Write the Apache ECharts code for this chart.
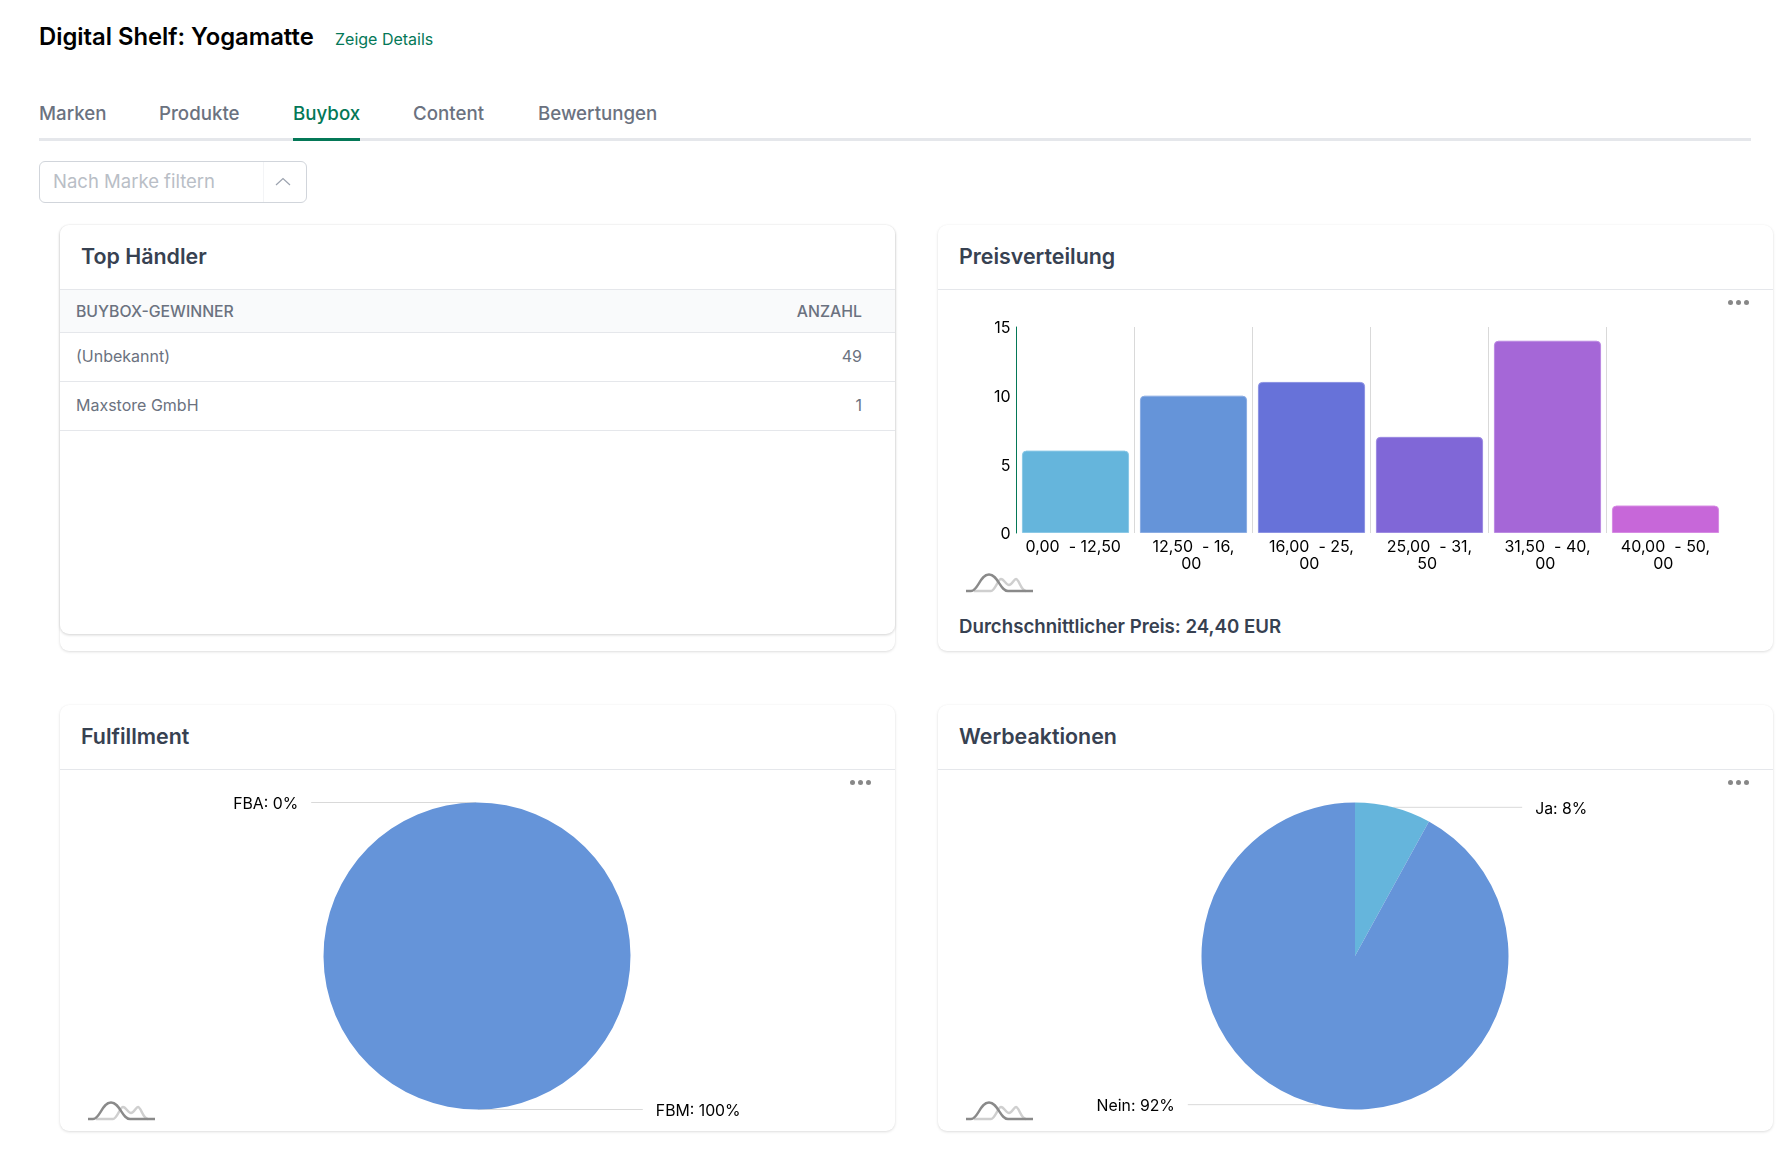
<!DOCTYPE html>
<html lang="de">
<head>
<meta charset="utf-8">
<title>Digital Shelf: Yogamatte</title>
<script src="https://cdn.jsdelivr.net/npm/echarts@6/dist/echarts.min.js"></script>
<style>
html,body{margin:0;padding:0;background:#fff;width:1790px;height:1152px;overflow:hidden;font-family:Inter,"Noto Sans",sans-serif;}
.a{position:absolute;white-space:nowrap;line-height:1;}
.mid{transform:translateY(-50%);}
.tab{font-size:18.7px;font-weight:500;color:#6b7280;top:113.5px;}
.card{position:absolute;background:#fff;border-radius:9px;box-shadow:0 1px 3px rgba(0,0,0,.13),0 0 2px rgba(0,0,0,.03);}
.ct{font-size:21.4px;font-weight:600;color:#374151;top:256.5px;}
.hl{position:absolute;height:1px;background:#e5e7eb;}
.th{font-size:15.8px;font-weight:500;color:#6b7280;}
.td{font-size:16px;font-weight:400;color:#6b7280;}
.dots{position:absolute;width:21px;height:5px;}
.dots i{position:absolute;top:0;width:5px;height:5px;border-radius:50%;background:#888;}
.dots i:nth-child(1){left:0}.dots i:nth-child(2){left:8px}.dots i:nth-child(3){left:16px}
svg.logo{position:absolute;width:67px;height:20px;}
#chart{position:absolute;left:0;top:0;width:1790px;height:1152px;}
</style>
</head>
<body>
<div class="a mid" style="left:39px;top:36.5px;font-size:23.8px;font-weight:600;color:#000;">Digital Shelf: Yogamatte</div>
<div class="a mid" style="left:335px;top:39px;font-size:16px;color:#047857;">Zeige Details</div>

<div class="a mid tab" style="left:39px;">Marken</div>
<div class="a mid tab" style="left:159px;">Produkte</div>
<div class="a mid tab" style="left:293px;color:#047857;">Buybox</div>
<div class="a mid tab" style="left:413px;">Content</div>
<div class="a mid tab" style="left:538px;">Bewertungen</div>
<div style="position:absolute;left:39px;top:138px;width:1712px;height:3px;background:#e5e7eb;"></div>
<div style="position:absolute;left:293px;top:138px;width:67px;height:3px;background:#047857;"></div>

<div style="position:absolute;left:39px;top:161px;width:266px;height:40px;border:1px solid #d1d5db;border-radius:6px;"></div>
<div style="position:absolute;left:263px;top:162px;width:1px;height:40px;background:#f3f4f6;"></div>
<div class="a mid" style="left:53px;top:181px;font-size:18.5px;color:#b9bec6;">Nach Marke filtern</div>
<svg style="position:absolute;left:275px;top:177px;" width="16" height="10"><path d="M1 8 L8 1.5 L15 8" fill="none" stroke="#9ca3af" stroke-width="1.2"/></svg>

<!-- Karten -->
<div class="card" style="left:60px;top:225px;width:835px;height:426px;"></div>
<div class="card" style="left:60px;top:225px;width:835px;height:409px;box-shadow:0 1px 3px rgba(0,0,0,.18);"></div>
<div class="card" style="left:938px;top:225px;width:835px;height:426px;"></div>
<div class="card" style="left:60px;top:705px;width:835px;height:426px;"></div>
<div class="card" style="left:938px;top:705px;width:835px;height:426px;"></div>

<div class="a mid ct" style="left:81px;">Top Händler</div>
<div class="a mid ct" style="left:959px;">Preisverteilung</div>
<div class="a mid ct" style="left:81px;top:736.5px;">Fulfillment</div>
<div class="a mid ct" style="left:959px;top:736.5px;">Werbeaktionen</div>

<div class="hl" style="left:60px;top:289px;width:835px;"></div>
<div class="hl" style="left:938px;top:289px;width:835px;"></div>
<div class="hl" style="left:60px;top:769px;width:835px;"></div>
<div class="hl" style="left:938px;top:769px;width:835px;"></div>

<div style="position:absolute;left:60px;top:290px;width:835px;height:42px;background:#f9fafb;"></div>
<div class="hl" style="left:60px;top:332px;width:835px;"></div>
<div class="hl" style="left:60px;top:381px;width:835px;"></div>
<div class="hl" style="left:60px;top:430px;width:835px;"></div>
<div class="a mid th" style="left:76px;top:311.5px;">BUYBOX-GEWINNER</div>
<div class="a mid th" style="right:928px;top:311.5px;">ANZAHL</div>
<div class="a mid td" style="left:76px;top:356px;">(Unbekannt)</div>
<div class="a mid td" style="right:928px;top:356px;">49</div>
<div class="a mid td" style="left:76px;top:405px;">Maxstore GmbH</div>
<div class="a mid td" style="right:928px;top:405px;">1</div>

<div class="dots" style="left:1728px;top:300px;"><i></i><i></i><i></i></div>
<div class="dots" style="left:850px;top:780px;"><i></i><i></i><i></i></div>
<div class="dots" style="left:1728px;top:780px;"><i></i><i></i><i></i></div>

<svg class="logo" style="left:966px;top:573px;" viewBox="0 0 67 20"><path d="M8 18 H25 C29 18 32 6 35 6 C38 6 40 12 43 12 C46 12 48 6 50 6 C53 6 55 18 60 18" fill="none" stroke="#cfcfcf" stroke-width="2.4"/><path d="M0 18 H5 C12 18 14 1.5 23 1.5 C32 1.5 34 18 42 18 H67" fill="none" stroke="#8a8a8a" stroke-width="2.4"/></svg>
<svg class="logo" style="left:88px;top:1101px;" viewBox="0 0 67 20"><path d="M8 18 H25 C29 18 32 6 35 6 C38 6 40 12 43 12 C46 12 48 6 50 6 C53 6 55 18 60 18" fill="none" stroke="#cfcfcf" stroke-width="2.4"/><path d="M0 18 H5 C12 18 14 1.5 23 1.5 C32 1.5 34 18 42 18 H67" fill="none" stroke="#8a8a8a" stroke-width="2.4"/></svg>
<svg class="logo" style="left:966px;top:1101px;" viewBox="0 0 67 20"><path d="M8 18 H25 C29 18 32 6 35 6 C38 6 40 12 43 12 C46 12 48 6 50 6 C53 6 55 18 60 18" fill="none" stroke="#cfcfcf" stroke-width="2.4"/><path d="M0 18 H5 C12 18 14 1.5 23 1.5 C32 1.5 34 18 42 18 H67" fill="none" stroke="#8a8a8a" stroke-width="2.4"/></svg>

<div class="a mid" style="left:959px;top:626px;font-size:18.65px;font-weight:600;color:#374151;">Durchschnittlicher Preis: 24,40 EUR</div>

<div id="chart"></div>
<script>
const priceCategories = ['0,00  - 12,50 ', '12,50  - 16,\n00 ', '16,00  - 25,\n00 ', '25,00  - 31,\n50 ', '31,50  - 40,\n00 ', '40,00  - 50,\n00 '];
const priceValues = [6, 10, 11, 7, 14, 2];
const priceColors = ['#65b5dc', '#6594d9', '#6772d9', '#8067d7', '#a567d7', '#c767d9'];
const priceEdgeColors = ['#8ac8e6', '#8aace3', '#8c92e3', '#9c8ae2', '#bb8ae2', '#d68ae3'];
const fulfillmentNames = ['FBA', 'FBM'];
const fulfillmentValues = [0, 100];
const promoNames = ['Ja', 'Nein'];
const promoValues = [8, 92];
const pieColors = ['#65b5dc', '#6594d9'];

const FONT = 'Inter, "Noto Sans", sans-serif';
function pieSeries(names, values, center, startAngle, len2) {
  return {
    type: 'pie', center: center, radius: [0, 153.5], startAngle: startAngle, clockwise: true,
    avoidLabelOverlap: false, silent: true, animation: false,
    stillShowZeroSum: true, percentPrecision: 0, minShowLabelAngle: 0,
    color: pieColors,
    itemStyle: { borderWidth: 0 },
    label: { show: true, position: 'outside', formatter: '{b}: {d}%', color: '#000', fontSize: 15.8, fontFamily: FONT, distanceToLabelLine: 13 },
    labelLayout: { dy: 1.5 },
    labelLine: { show: true, length: 0, length2: len2, smooth: false, lineStyle: { color: '#d9d9d9', width: 1 } },
    data: names.map((n, i) => ({ name: n, value: values[i] }))
  };
}
const chart = echarts.init(document.getElementById('chart'), null, { renderer: 'canvas', width: 1790, height: 1152 });
chart.setOption({
  animation: false,
  backgroundColor: 'transparent',
  grid: { left: 1016.5, top: 327, width: 708, height: 206, containLabel: false },
  xAxis: {
    type: 'category', data: priceCategories,
    axisTick: { show: false },
    axisLine: { show: false },
    axisLabel: { color: '#000', fontSize: 16, fontFamily: FONT, margin: 6, lineHeight: 17, interval: 0 },
    splitLine: { show: true, interval: 0, showMaxLine: false, lineStyle: { color: '#d9d9d9', width: 1 } }
  },
  yAxis: {
    type: 'value', min: 0, max: 15, interval: 5,
    axisLine: { show: true, lineStyle: { color: '#047857', width: 1 } },
    axisTick: { show: false },
    splitLine: { show: false },
    axisLabel: { color: '#000', fontSize: 16, fontFamily: FONT, margin: 6, verticalAlign: 'top', lineHeight: 3 }
  },
  series: [
    {
      type: 'bar',
      data: priceValues.map((v, i) => ({ value: v, itemStyle: { color: priceColors[i], borderColor: priceEdgeColors[i], borderWidth: 1, borderRadius: [4, 4, 0, 0] } })),
      barCategoryGap: '9.2%', silent: true
    },
    pieSeries(fulfillmentNames, fulfillmentValues, [477, 956], 90.3, 165),
    pieSeries(promoNames, promoValues, [1355, 956], 90, 129)
  ]
});
</script>
</body>
</html>
